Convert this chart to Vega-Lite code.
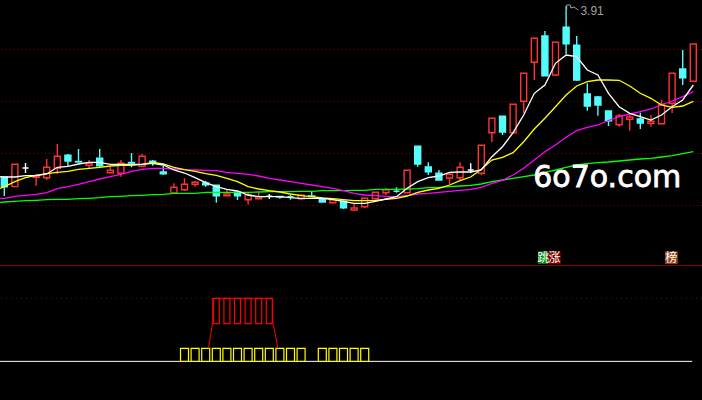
{
"$schema":"https://vega.github.io/schema/vega-lite/v6.json",
"background":"#000000","padding":{"left":-3,"right":0,"top":0,"bottom":0},"spacing":0,
"config":{"view":{"stroke":null},"concat":{"spacing":0}},
"datasets":{
"candles":[
{"i":0,"o":3.0535,"c":3.0065,"h":3.055,"l":2.96,"t":"down"},
{"i":1,"o":3.007,"c":3.1185,"h":3.1185,"l":3.007,"t":"up"},
{"i":2,"o":3.1,"c":3.1,"h":3.125,"l":3.075,"t":"doji"},
{"i":3,"o":3.0535,"c":3.0615,"h":3.07,"l":3.0115,"t":"up"},
{"i":4,"o":3.0515,"c":3.1035,"h":3.145,"l":3.04,"t":"up"},
{"i":5,"o":3.0985,"c":3.1585,"h":3.22,"l":3.07,"t":"up"},
{"i":6,"o":3.1635,"c":3.135,"h":3.17,"l":3.11,"t":"down"},
{"i":7,"o":3.1325,"c":3.13,"h":3.195,"l":3.13,"t":"down"},
{"i":8,"o":3.1135,"c":3.1235,"h":3.14,"l":3.0965,"t":"up"},
{"i":9,"o":3.1485,"c":3.1115,"h":3.195,"l":3.105,"t":"down"},
{"i":10,"o":3.0765,"c":3.0885,"h":3.105,"l":3.0765,"t":"up"},
{"i":11,"o":3.0735,"c":3.1235,"h":3.14,"l":3.0565,"t":"up"},
{"i":12,"o":3.1275,"c":3.125,"h":3.175,"l":3.1035,"t":"down"},
{"i":13,"o":3.1085,"c":3.1585,"h":3.17,"l":3.1035,"t":"up"},
{"i":14,"o":3.1335,"c":3.1235,"h":3.14,"l":3.1115,"t":"down"},
{"i":15,"o":3.08,"c":3.0715,"h":3.11,"l":3.0665,"t":"down"},
{"i":16,"o":2.975,"c":3.0035,"h":3.0235,"l":2.975,"t":"up"},
{"i":17,"o":2.9915,"c":3.0185,"h":3.0485,"l":2.985,"t":"up"},
{"i":18,"o":3.0185,"c":3.0285,"h":3.035,"l":3.0065,"t":"up"},
{"i":19,"o":3.025,"c":3.0165,"h":3.035,"l":3.0065,"t":"down"},
{"i":20,"o":3.0135,"c":2.9615,"h":3.015,"l":2.9265,"t":"down"},
{"i":21,"o":2.9615,"c":2.97,"h":2.995,"l":2.9615,"t":"up"},
{"i":22,"o":2.9785,"c":2.9615,"h":2.98,"l":2.94,"t":"down"},
{"i":23,"o":2.9415,"c":2.965,"h":2.975,"l":2.9165,"t":"up"},
{"i":24,"o":2.9465,"c":2.955,"h":2.9765,"l":2.9465,"t":"up"},
{"i":25,"o":2.9585,"c":2.9585,"h":2.97,"l":2.945,"t":"doji"},
{"i":26,"o":2.9575,"c":2.955,"h":2.96,"l":2.9465,"t":"down"},
{"i":27,"o":2.9565,"c":2.9565,"h":2.9665,"l":2.9415,"t":"down"},
{"i":28,"o":2.9465,"c":2.9635,"h":2.97,"l":2.9415,"t":"up"},
{"i":29,"o":2.96,"c":2.9575,"h":2.9835,"l":2.9575,"t":"down"},
{"i":30,"o":2.9465,"c":2.93,"h":2.9465,"l":2.93,"t":"down"},
{"i":31,"o":2.9265,"c":2.9415,"h":2.9415,"l":2.9265,"t":"up"},
{"i":32,"o":2.9335,"c":2.9015,"h":2.9375,"l":2.895,"t":"down"},
{"i":33,"o":2.89,"c":2.9,"h":2.92,"l":2.885,"t":"up"},
{"i":34,"o":2.9065,"c":2.9485,"h":2.9485,"l":2.9015,"t":"up"},
{"i":35,"o":2.9465,"c":2.9785,"h":2.9785,"l":2.9465,"t":"up"},
{"i":36,"o":2.9765,"c":2.9915,"h":3.0,"l":2.965,"t":"up"},
{"i":37,"o":2.9835,"c":2.9835,"h":3.0035,"l":2.9765,"t":"down"},
{"i":38,"o":2.9765,"c":3.0885,"h":3.0885,"l":2.9765,"t":"up"},
{"i":39,"o":3.2085,"c":3.12,"h":3.2085,"l":3.1065,"t":"down"},
{"i":40,"o":3.105,"c":3.0815,"h":3.1285,"l":3.065,"t":"down"},
{"i":41,"o":3.0735,"c":3.04,"h":3.09,"l":3.04,"t":"down"},
{"i":42,"o":3.05,"c":3.0685,"h":3.0735,"l":3.02,"t":"up"},
{"i":43,"o":3.0515,"c":3.1035,"h":3.1285,"l":3.04,"t":"up"},
{"i":44,"o":3.09,"c":3.09,"h":3.1235,"l":3.0765,"t":"doji"},
{"i":45,"o":3.0735,"c":3.2135,"h":3.2135,"l":3.065,"t":"up"},
{"i":46,"o":3.2765,"c":3.3485,"h":3.3485,"l":3.23,"t":"up"},
{"i":47,"o":3.3585,"c":3.28,"h":3.3585,"l":3.265,"t":"down"},
{"i":48,"o":3.2765,"c":3.4185,"h":3.4185,"l":3.2765,"t":"up"},
{"i":49,"o":3.4335,"c":3.5735,"h":3.5735,"l":3.375,"t":"up"},
{"i":50,"o":3.6285,"c":3.7485,"h":3.7485,"l":3.54,"t":"up"},
{"i":51,"o":3.76,"c":3.5615,"h":3.785,"l":3.5615,"t":"down"},
{"i":52,"o":3.565,"c":3.7285,"h":3.7285,"l":3.5615,"t":"up"},
{"i":53,"o":3.8035,"c":3.7215,"h":3.91,"l":3.67,"t":"down"},
{"i":54,"o":3.7135,"c":3.54,"h":3.76,"l":3.5365,"t":"down"},
{"i":55,"o":3.47,"c":3.41,"h":3.5235,"l":3.3865,"t":"down"},
{"i":56,"o":3.455,"c":3.415,"h":3.46,"l":3.3615,"t":"down"},
{"i":57,"o":3.385,"c":3.3365,"h":3.385,"l":3.31,"t":"down"},
{"i":58,"o":3.3165,"c":3.36,"h":3.37,"l":3.3065,"t":"up"},
{"i":59,"o":3.3435,"c":3.355,"h":3.3665,"l":3.2865,"t":"up"},
{"i":60,"o":3.345,"c":3.325,"h":3.3765,"l":3.295,"t":"down"},
{"i":61,"o":3.3235,"c":3.3335,"h":3.3635,"l":3.3065,"t":"up"},
{"i":62,"o":3.3215,"c":3.4185,"h":3.44,"l":3.3215,"t":"up"},
{"i":63,"o":3.4235,"c":3.5735,"h":3.5735,"l":3.375,"t":"up"},
{"i":64,"o":3.595,"c":3.5515,"h":3.69,"l":3.515,"t":"down"},
{"i":65,"o":3.5335,"c":3.72,"h":3.72,"l":3.5335,"t":"up"}
],
"mas":[
{"i":-0.4,"a":3.0565,"b":2.9985,"m":2.9485,"g":2.9285},
{"i":0,"a":3.055,"b":3.0065,"m":2.9485,"g":2.93},
{"i":1,"a":3.055,"b":3.0315,"m":2.9585,"g":2.9335},
{"i":2,"a":3.0615,"b":3.0515,"m":2.9635,"g":2.9365},
{"i":3,"a":3.0615,"b":3.0635,"m":2.9685,"g":2.9385},
{"i":4,"a":3.07,"b":3.0715,"m":2.9765,"g":2.9415},
{"i":5,"a":3.1035,"b":3.0785,"m":2.9965,"g":2.9435},
{"i":6,"a":3.1085,"b":3.0835,"m":3.0065,"g":2.9435},
{"i":7,"a":3.12,"b":3.0935,"m":3.0185,"g":2.9465},
{"i":8,"a":3.1285,"b":3.0985,"m":3.0315,"g":2.9485},
{"i":9,"a":3.1285,"b":3.1035,"m":3.045,"g":2.9515},
{"i":10,"a":3.1185,"b":3.11,"m":3.0565,"g":2.9565},
{"i":11,"a":3.1185,"b":3.1135,"m":3.0685,"g":2.9585},
{"i":12,"a":3.1185,"b":3.1135,"m":3.0835,"g":2.9615},
{"i":13,"a":3.1185,"b":3.1185,"m":3.0935,"g":2.9635},
{"i":14,"a":3.1235,"b":3.1285,"m":3.0985,"g":2.9665},
{"i":15,"a":3.115,"b":3.12,"m":3.0985,"g":2.9685},
{"i":16,"a":3.09,"b":3.1035,"m":3.095,"g":2.9735},
{"i":17,"a":3.075,"b":3.0915,"m":3.0915,"g":2.9735},
{"i":18,"a":3.0515,"b":3.0835,"m":3.09,"g":2.9735},
{"i":19,"a":3.0265,"b":3.0715,"m":3.0885,"g":2.9785},
{"i":20,"a":3.0065,"b":3.0635,"m":3.0865,"g":2.9785},
{"i":21,"a":2.9935,"b":3.0485,"m":3.0785,"g":2.9785},
{"i":22,"a":2.985,"b":3.0315,"m":3.0735,"g":2.9785},
{"i":23,"a":2.965,"b":3.0065,"m":3.0685,"g":2.9785},
{"i":24,"a":2.9565,"b":2.995,"m":3.06,"g":2.98},
{"i":25,"a":2.9565,"b":2.9865,"m":3.0485,"g":2.9815},
{"i":26,"a":2.9565,"b":2.98,"m":3.04,"g":2.9815},
{"i":27,"a":2.9515,"b":2.97,"m":3.0315,"g":2.9815},
{"i":28,"a":2.9485,"b":2.9615,"m":3.0235,"g":2.9835},
{"i":29,"a":2.9485,"b":2.9565,"m":3.015,"g":2.9835},
{"i":30,"a":2.9485,"b":2.95,"m":3.0065,"g":2.9865},
{"i":31,"a":2.9415,"b":2.9465,"m":2.9985,"g":2.9865},
{"i":32,"a":2.9335,"b":2.9415,"m":2.9865,"g":2.9865},
{"i":33,"a":2.9235,"b":2.9365,"m":2.9735,"g":2.9885},
{"i":34,"a":2.9235,"b":2.9365,"m":2.965,"g":2.9885},
{"i":35,"a":2.9335,"b":2.9385,"m":2.9615,"g":2.9935},
{"i":36,"a":2.945,"b":2.9435,"m":2.9585,"g":2.9935},
{"i":37,"a":2.9565,"b":2.9485,"m":2.9565,"g":2.9935},
{"i":38,"a":2.9985,"b":2.96,"m":2.9615,"g":2.995},
{"i":39,"a":3.0315,"b":2.9785,"m":2.97,"g":2.9965},
{"i":40,"a":3.0515,"b":2.99,"m":2.9735,"g":3.0015},
{"i":41,"a":3.06,"b":2.9985,"m":2.9785,"g":3.0035},
{"i":42,"a":3.0785,"b":3.015,"m":2.9835,"g":3.0065},
{"i":43,"a":3.08,"b":3.0365,"m":2.9885,"g":3.01},
{"i":44,"a":3.08,"b":3.055,"m":2.9935,"g":3.0135},
{"i":45,"a":3.09,"b":3.0935,"m":3.0035,"g":3.02},
{"i":46,"a":3.1565,"b":3.14,"m":3.0235,"g":3.0315},
{"i":47,"a":3.2065,"b":3.1535,"m":3.0385,"g":3.04},
{"i":48,"a":3.2765,"b":3.1765,"m":3.065,"g":3.0485},
{"i":49,"a":3.365,"b":3.2315,"m":3.0985,"g":3.0565},
{"i":50,"a":3.4735,"b":3.295,"m":3.14,"g":3.065},
{"i":51,"a":3.515,"b":3.3485,"m":3.1815,"g":3.0785},
{"i":52,"a":3.6235,"b":3.4065,"m":3.215,"g":3.09},
{"i":53,"a":3.665,"b":3.465,"m":3.2535,"g":3.1035},
{"i":54,"a":3.6565,"b":3.51,"m":3.2865,"g":3.115},
{"i":55,"a":3.59,"b":3.5315,"m":3.3035,"g":3.1215},
{"i":56,"a":3.565,"b":3.54,"m":3.315,"g":3.1265},
{"i":57,"a":3.4735,"b":3.54,"m":3.3375,"g":3.13},
{"i":58,"a":3.4065,"b":3.5385,"m":3.3565,"g":3.135},
{"i":59,"a":3.3735,"b":3.51,"m":3.37,"g":3.14},
{"i":60,"a":3.3565,"b":3.4735,"m":3.3815,"g":3.145},
{"i":61,"a":3.34,"b":3.4485,"m":3.395,"g":3.1485},
{"i":62,"a":3.365,"b":3.415,"m":3.415,"g":3.155},
{"i":63,"a":3.4065,"b":3.4035,"m":3.435,"g":3.1615},
{"i":64,"a":3.44,"b":3.41,"m":3.4565,"g":3.1715},
{"i":65,"a":3.515,"b":3.4335,"m":3.4815,"g":3.1815}
],
"signal":[
{"i":17,"v0":0,"v1":1},{"i":18,"v0":0,"v1":1},{"i":19,"v0":0,"v1":1},{"i":20,"v0":0,"v1":1},{"i":21,"v0":0,"v1":1},{"i":22,"v0":0,"v1":1},{"i":23,"v0":0,"v1":1},{"i":24,"v0":0,"v1":1},{"i":25,"v0":0,"v1":1},{"i":26,"v0":0,"v1":1},{"i":27,"v0":0,"v1":1},{"i":28,"v0":0,"v1":1},{"i":30,"v0":0,"v1":1},{"i":31,"v0":0,"v1":1},{"i":32,"v0":0,"v1":1},{"i":33,"v0":0,"v1":1},{"i":34,"v0":0,"v1":1}
],
"red":[{"i":20,"v0":2.9,"v1":4.85},{"i":21,"v0":2.9,"v1":4.85},{"i":22,"v0":2.9,"v1":4.85},{"i":23,"v0":2.9,"v1":4.85},{"i":24,"v0":2.9,"v1":4.85},{"i":25,"v0":2.9,"v1":4.85}],
"trap":[{"n":1,"i":19.26,"v":1.0},{"n":2,"i":19.66,"v":3.0},{"n":3,"i":19.66,"v":4.85},{"n":4,"i":25.32,"v":4.85},{"n":5,"i":25.32,"v":3.1},{"n":6,"i":25.82,"v":1.0}]
},
"vconcat":[
{"width":702,"height":265,
"encoding":{
  "x":{"field":"i","type":"quantitative","scale":{"domain":[-0.406,65.82],"nice":false,"zero":false,"padding":0},"axis":null},
  "y":{"field":"p","type":"quantitative","scale":{"domain":[2.615,3.94],"nice":false,"zero":false},"axis":null}
},
"layer":[
{"data":{"values":[{"p":3.6925},{"p":3.4325},{"p":3.1725},{"p":2.9125}]},
 "mark":{"type":"rule","color":"#800000","strokeDash":[1,3],"strokeWidth":1},
 "encoding":{"x":null}},
{"data":{"name":"candles"},
 "mark":{"type":"rule","strokeWidth":1.4},
 "encoding":{
  "y":{"field":"l","type":"quantitative","scale":{"domain":[2.615,3.94],"nice":false,"zero":false},"axis":null},
  "y2":{"field":"h"},
  "color":{"field":"t","type":"nominal","legend":null,"scale":{"domain":["up","down","doji"],"range":["#ff3232","#54fcfc","#ffffff"]}}}},
{"data":{"name":"candles"},
 "mark":{"type":"bar","size":6,"strokeWidth":1.4},
 "encoding":{
  "y":{"field":"o","type":"quantitative","scale":{"domain":[2.615,3.94],"nice":false,"zero":false},"axis":null},
  "y2":{"field":"c"},
  "fill":{"field":"t","type":"nominal","legend":null,"scale":{"domain":["up","down","doji"],"range":["#000000","#54fcfc","#ffffff"]}},
  "stroke":{"field":"t","type":"nominal","legend":null,"scale":{"domain":["up","down","doji"],"range":["#ff3232","#54fcfc","#ffffff"]}}}},
{"data":{"name":"mas"},"mark":{"type":"line","color":"#00ff00","strokeWidth":1.3},
 "encoding":{"y":{"field":"g","type":"quantitative","scale":{"domain":[2.615,3.94],"nice":false,"zero":false},"axis":null}}},
{"data":{"name":"mas"},"mark":{"type":"line","color":"#ff00ff","strokeWidth":1.3},
 "encoding":{"y":{"field":"m","type":"quantitative","scale":{"domain":[2.615,3.94],"nice":false,"zero":false},"axis":null}}},
{"data":{"name":"mas"},"mark":{"type":"line","color":"#ffff00","strokeWidth":1.3},
 "encoding":{"y":{"field":"b","type":"quantitative","scale":{"domain":[2.615,3.94],"nice":false,"zero":false},"axis":null}}},
{"data":{"name":"mas"},"mark":{"type":"line","color":"#ffffff","strokeWidth":1.3},
 "encoding":{"y":{"field":"a","type":"quantitative","scale":{"domain":[2.615,3.94],"nice":false,"zero":false},"axis":null}}},
{"data":{"values":[{"n":1,"i":53.06,"p":3.89},{"n":2,"i":53.06,"p":3.915},{"n":3,"i":53.4,"p":3.915},{"n":4,"i":53.45,"p":3.9},{"n":5,"i":53.75,"p":3.905},{"n":6,"i":54.15,"p":3.89}]},
 "mark":{"type":"line","color":"#a0a0a0","strokeWidth":1},
 "encoding":{"order":{"field":"n","type":"quantitative"}}},
{"data":{"values":[{"i":54.35,"p":3.883,"s":"3.91"}]},
 "mark":{"type":"text","color":"#a0a0a0","font":"Liberation Sans","fontSize":12,"align":"left","baseline":"middle"},
 "encoding":{"text":{"field":"s"}}},
{"data":{"values":[{"i":49.9,"p":3.05,"s":"6o7o.com"}]},
 "mark":{"type":"text","color":"#ffffff","stroke":"#ffffff","strokeWidth":0.8,"font":"DejaVu Sans","fontSize":30,"align":"left","baseline":"middle"},
 "encoding":{"text":{"field":"s"}}},
{"data":{"values":[{"i":50.35,"b":51.32,"p":2.6835,"p1":2.62}]},"mark":{"type":"rect","fill":"#007f00"},"encoding":{"x2":{"field":"b"},"y2":{"field":"p1"}}},
{"data":{"values":[{"i":51.32,"b":52.49,"p":2.6835,"p1":2.62}]},"mark":{"type":"rect","fill":"#7f0000"},"encoding":{"x2":{"field":"b"},"y2":{"field":"p1"}}},
{"data":{"values":[{"i":62.33,"b":63.53,"p":2.6835,"p1":2.62}]},"mark":{"type":"rect","fill":"#8b4513"},"encoding":{"x2":{"field":"b"},"y2":{"field":"p1"}}},
{"data":{"values":[{"i":50.84,"p":2.6515,"s":"跳"},{"i":51.91,"p":2.6515,"s":"涨"},{"i":62.93,"p":2.6515,"s":"榜"}]},
 "mark":{"type":"text","color":"#ffffff","font":"Noto Sans CJK SC","fontSize":12,"align":"center","baseline":"middle"},
 "encoding":{"text":{"field":"s"}}}
],
"resolve":{"scale":{"fill":"independent","stroke":"independent","color":"independent"}}
},
{"width":702,"height":135,
"encoding":{
  "x":{"field":"i","type":"quantitative","scale":{"domain":[-0.406,65.82],"nice":false,"zero":false,"padding":0},"axis":null},
  "y":{"field":"v","type":"quantitative","scale":{"domain":[-2.97,7.41],"nice":false,"zero":false},"axis":null}
},
"layer":[
{"data":{"values":[{"v":7.37}]},
 "mark":{"type":"rule","color":"#800000","strokeWidth":1},
 "encoding":{"x":null}},
{"data":{"values":[{"v":4.85}]},
 "mark":{"type":"rule","color":"#800000","strokeDash":[1,4],"strokeWidth":1},
 "encoding":{"x":null}},
{"data":{"values":[{"i":-0.406,"b":64.9,"v":0}]},
 "mark":{"type":"rule","color":"#ffffff","strokeWidth":1},
 "encoding":{"x2":{"field":"b"}}},
{"data":{"name":"signal"},
 "mark":{"type":"bar","size":8,"fill":"#000000","stroke":"#ffff00","strokeWidth":1.2},
 "encoding":{"y":{"field":"v0","type":"quantitative","scale":{"domain":[-2.97,7.41],"nice":false,"zero":false},"axis":null},"y2":{"field":"v1"}}},
{"data":{"name":"red"},
 "mark":{"type":"bar","size":6,"fill":"#000000","stroke":"#ff0000","strokeWidth":1.2},
 "encoding":{"y":{"field":"v0","type":"quantitative","scale":{"domain":[-2.97,7.41],"nice":false,"zero":false},"axis":null},"y2":{"field":"v1"}}},
{"data":{"name":"trap"},
 "mark":{"type":"line","color":"#ff0000","strokeWidth":1},
 "encoding":{"order":{"field":"n","type":"quantitative"}}}
]
}
]
}
